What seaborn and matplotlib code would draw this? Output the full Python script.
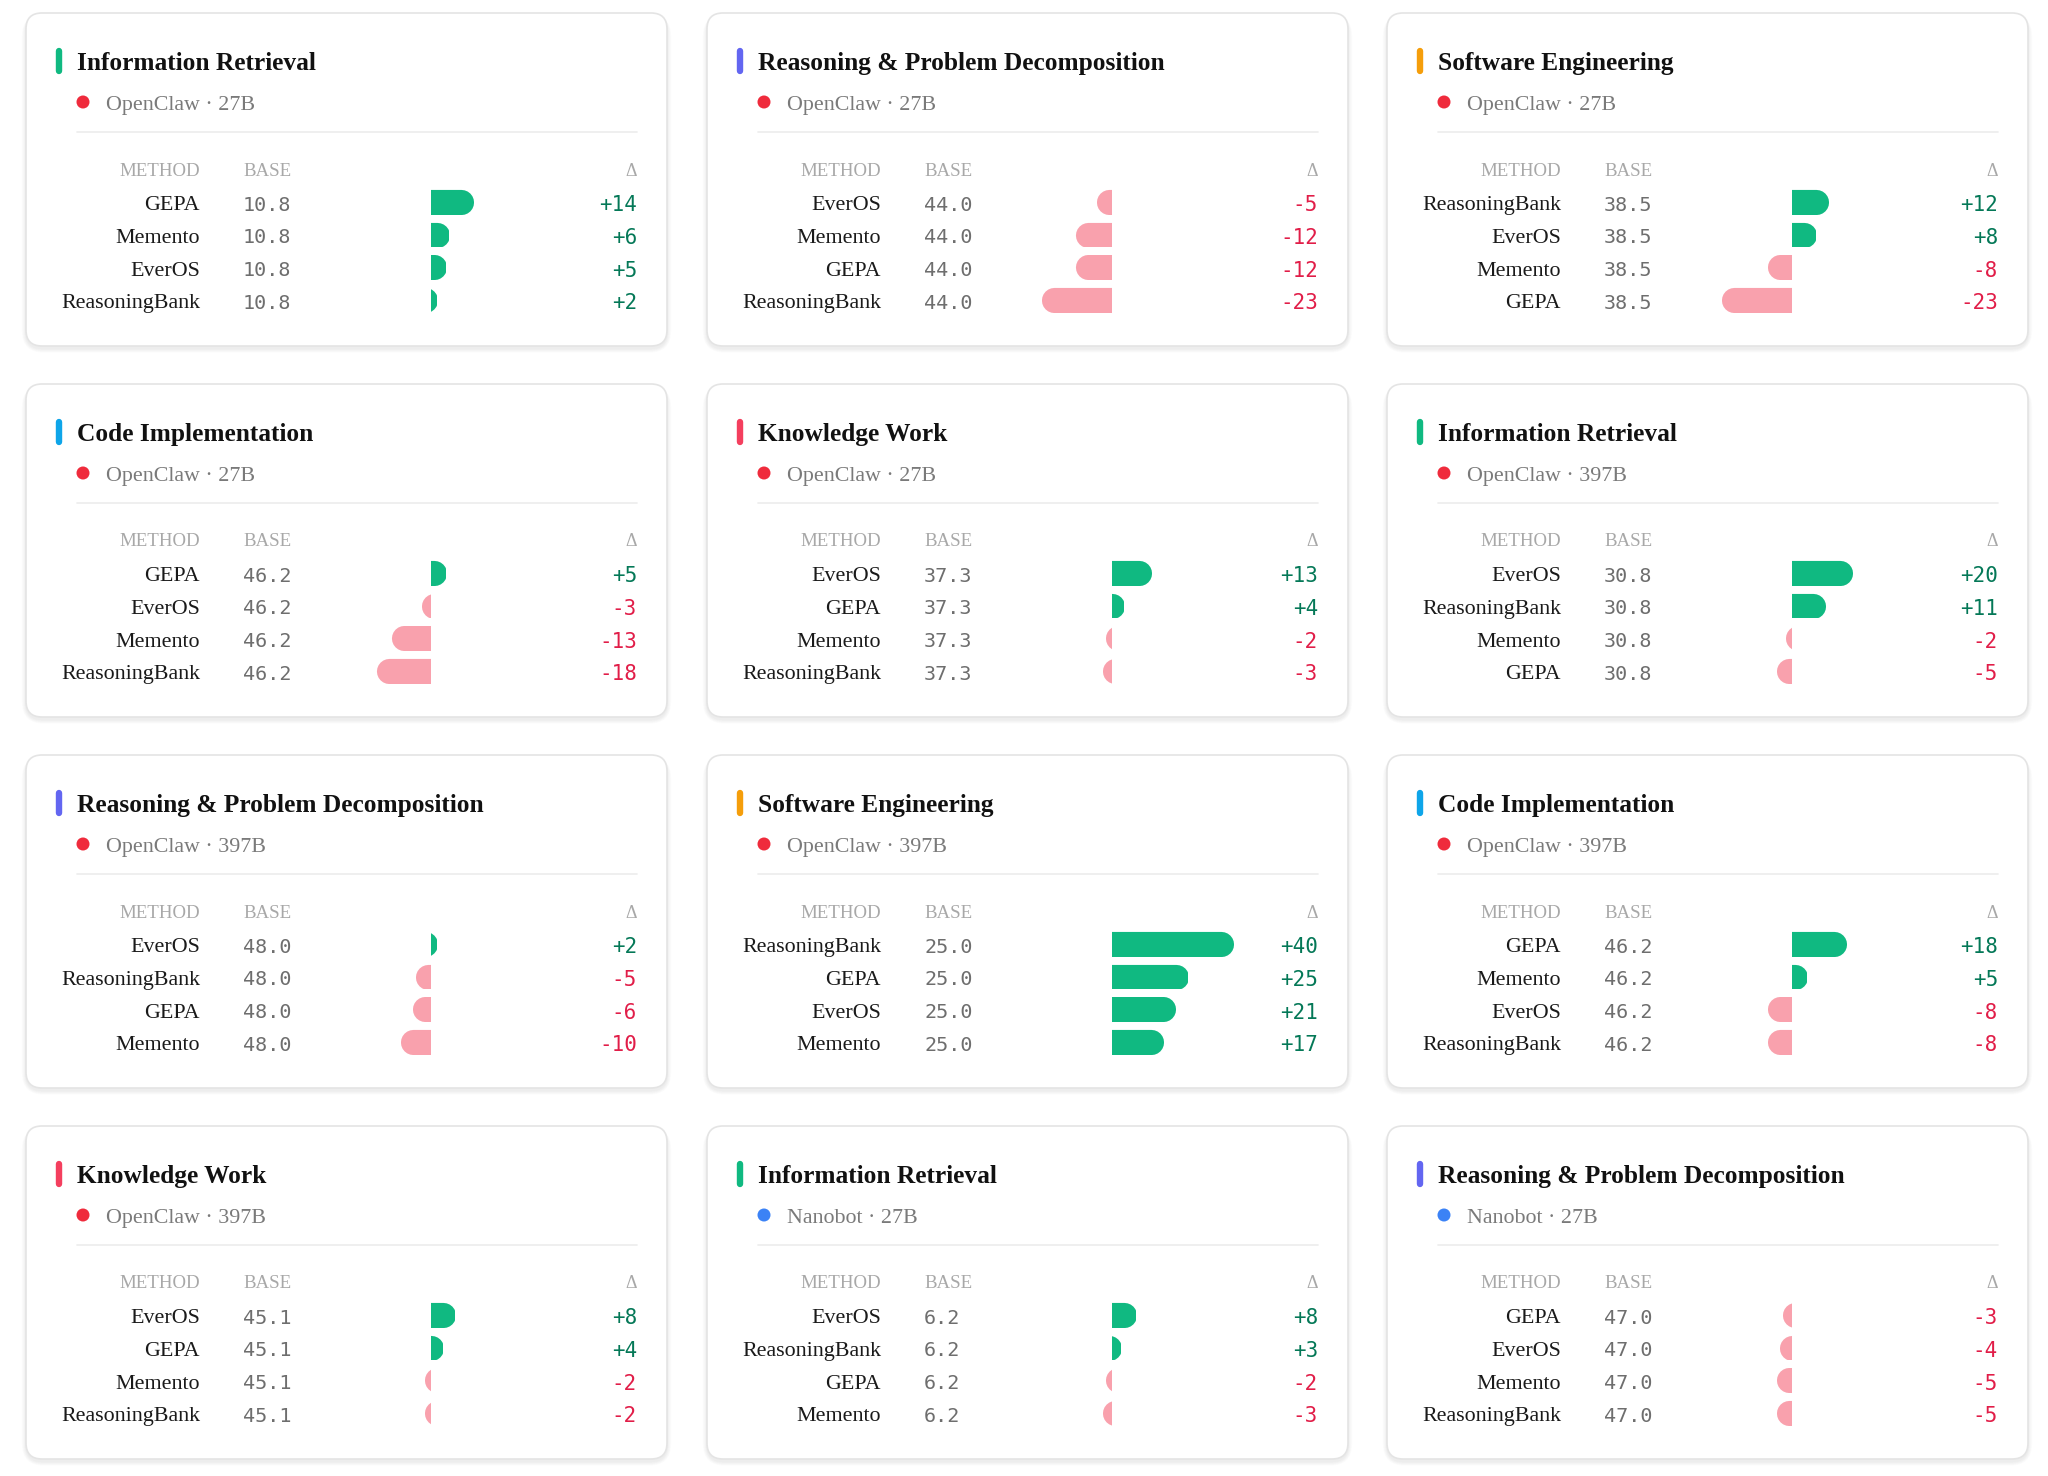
import numpy as np
import pandas as pd
import matplotlib
matplotlib.use('Agg')
import matplotlib.pyplot as plt
import matplotlib.transforms as mtransforms
from matplotlib.patches import FancyBboxPatch, Circle
from matplotlib.lines import Line2D
import seaborn as sns

sns.set_theme(style='white')
plt.rcParams['font.family'] = ['Liberation Serif', 'DejaVu Serif']

# ---- data ----
titles = ['Information Retrieval', 'Reasoning & Problem Decomposition', 'Software Engineering',
          'Code Implementation', 'Knowledge Work', 'Information Retrieval',
          'Reasoning & Problem Decomposition', 'Software Engineering', 'Code Implementation',
          'Knowledge Work', 'Information Retrieval', 'Reasoning & Problem Decomposition']
agents = ['OpenClaw'] * 10 + ['Nanobot'] * 2
sizes = ['27B', '27B', '27B', '27B', '27B', '397B', '397B', '397B', '397B', '397B', '27B', '27B']
bases = [10.8, 44.0, 38.5, 46.2, 37.3, 30.8, 48.0, 25.0, 46.2, 45.1, 6.2, 47.0]
methods = [
    ['GEPA', 'Memento', 'EverOS', 'ReasoningBank'],
    ['EverOS', 'Memento', 'GEPA', 'ReasoningBank'],
    ['ReasoningBank', 'EverOS', 'Memento', 'GEPA'],
    ['GEPA', 'EverOS', 'Memento', 'ReasoningBank'],
    ['EverOS', 'GEPA', 'Memento', 'ReasoningBank'],
    ['EverOS', 'ReasoningBank', 'Memento', 'GEPA'],
    ['EverOS', 'ReasoningBank', 'GEPA', 'Memento'],
    ['ReasoningBank', 'GEPA', 'EverOS', 'Memento'],
    ['GEPA', 'Memento', 'EverOS', 'ReasoningBank'],
    ['EverOS', 'GEPA', 'Memento', 'ReasoningBank'],
    ['EverOS', 'ReasoningBank', 'GEPA', 'Memento'],
    ['GEPA', 'EverOS', 'Memento', 'ReasoningBank'],
]
deltas = [
    [14, 6, 5, 2],
    [-5, -12, -12, -23],
    [12, 8, -8, -23],
    [5, -3, -13, -18],
    [13, 4, -2, -3],
    [20, 11, -2, -5],
    [2, -5, -6, -10],
    [40, 25, 21, 17],
    [18, 5, -8, -8],
    [8, 4, -2, -2],
    [8, 3, -2, -3],
    [-3, -4, -5, -5],
]

accent = {'Information Retrieval': '#10b981', 'Reasoning & Problem Decomposition': '#6366f1',
          'Software Engineering': '#f59e0b', 'Code Implementation': '#0ea5e9',
          'Knowledge Work': '#f43f5e'}
agent_dot = {'OpenClaw': '#ef2b3c', 'Nanobot': '#3b82f6'}
POS, NEG = '#10b981', '#f9a1ad'
POS_TXT, NEG_TXT = '#047857', '#e11d48'

# ---- layout (pixels) ----
W, H = 2048, 1476
col_left = [26, 707, 1387]
row_top = [13, 384, 755, 1126]
card_w, card_h = 641, 333
row_gap = 32.65
px_per_unit = 3.05
zero_off = 405
tab_l, tab_r = 51, 611
bar_w = 0.77
txt_dy = 0.04

fig = plt.figure(figsize=(W / 100, H / 100), dpi=100)
fig.patch.set_facecolor('white')
bg = fig.add_axes([0, 0, 1, 1], zorder=0)
bg.set_xlim(0, W)
bg.set_ylim(H, 0)
bg.axis('off')


def fx(off):
    return (off - tab_l) / (tab_r - tab_l)


for i in range(12):
    cx, cy = col_left[i % 3], row_top[i // 3]

    # card with soft shadow
    for k in range(1, 7):
        bg.add_patch(FancyBboxPatch((cx - k * 0.7, cy - k * 0.2 + 2.5), card_w + 1.4 * k, card_h + 0.9 * k,
                                    boxstyle='round,pad=0,rounding_size=%d' % (16 + k),
                                    fc='black', ec='none', alpha=0.012))
    bg.add_patch(FancyBboxPatch((cx, cy), card_w, card_h, boxstyle='round,pad=0,rounding_size=16',
                                fc='white', ec='#e4e4e4', lw=1.2))

    bg.plot([cx + 33, cx + 33], [cy + 38, cy + 58], color=accent[titles[i]], lw=4.6,
            solid_capstyle='round')
    bg.text(cx + 51, cy + 48, titles[i], fontsize=18.3, fontweight='bold', color='#111111',
            va='center_baseline')
    bg.add_patch(Circle((cx + 57, cy + 89), 6.5, color=agent_dot[agents[i]], lw=0))
    bg.text(cx + 80, cy + 90, f'{agents[i]} \u00b7 {sizes[i]}', fontsize=15.8, color='#7a7a7a',
            va='center_baseline')
    bg.plot([cx + tab_l, cx + tab_r], [cy + 119, cy + 119], color='#ececec', lw=1.2)

    hy = cy + 156
    bg.text(cx + 174, hy, 'METHOD', fontsize=13.6, color='#a8a8a8', ha='right', va='center_baseline')
    bg.text(cx + 217, hy, 'BASE', fontsize=13.6, color='#a8a8a8', ha='left', va='center_baseline')
    bg.text(cx + tab_r, hy, '\u0394', fontsize=13, color='#a8a8a8', ha='right', va='center_baseline')

    # bar table
    top_px = cy + 189 - row_gap / 2
    bot_px = top_px + 4 * row_gap
    ax = fig.add_axes([(cx + tab_l) / W, 1 - bot_px / H, (tab_r - tab_l) / W, 4 * row_gap / H], zorder=2)
    df = pd.DataFrame({'method': methods[i], 'delta': deltas[i]})
    df['sign'] = np.where(df['delta'] >= 0, 'pos', 'neg')
    sns.barplot(data=df, x='delta', y='method', hue='sign', order=methods[i],
                palette={'pos': POS, 'neg': NEG}, dodge=False, width=bar_w,
                saturation=1, legend=False, ax=ax)

    # round the outer end of each bar
    r_units = (bar_w * row_gap / 2) / px_per_unit
    lw_pt = bar_w * row_gap * 72 / 100
    for p in list(ax.patches):
        w = p.get_width()
        if w == 0:
            continue
        x0 = p.get_x()
        yc = p.get_y() + p.get_height() / 2
        s = np.sign(w)
        fc = p.get_facecolor()
        ln = Line2D([x0 - s * r_units, x0 + w - s * r_units], [yc, yc], lw=lw_pt, color=fc,
                    solid_capstyle='round')
        ax.add_line(ln)
        ln.set_clip_path(p)
        p.set_facecolor('none')
        p.set_edgecolor('none')

    ax.set_xlim((tab_l - zero_off) / px_per_unit, (tab_r - zero_off) / px_per_unit)
    ax.set_ylim(3.5, -0.5)
    ax.axis('off')

    trans = mtransforms.blended_transform_factory(ax.transAxes, ax.transData)
    for j, (m, d) in enumerate(zip(methods[i], deltas[i])):
        ax.text(fx(174), j + txt_dy, m, transform=trans, ha='right', va='center_baseline',
                fontsize=15.8, color='#1a1a1a')
        ax.text(fx(217), j + txt_dy, f'{bases[i]:.1f}', transform=trans, ha='left', va='center_baseline',
                fontsize=14.5, color='#6e6e6e', family='DejaVu Sans Mono')
        ax.text(1.0, j + txt_dy, f'{d:+d}', transform=trans, ha='right', va='center_baseline',
                fontsize=15, color=POS_TXT if d >= 0 else NEG_TXT, family='DejaVu Sans Mono')

fig.savefig('out.png', dpi=100, facecolor='white')
